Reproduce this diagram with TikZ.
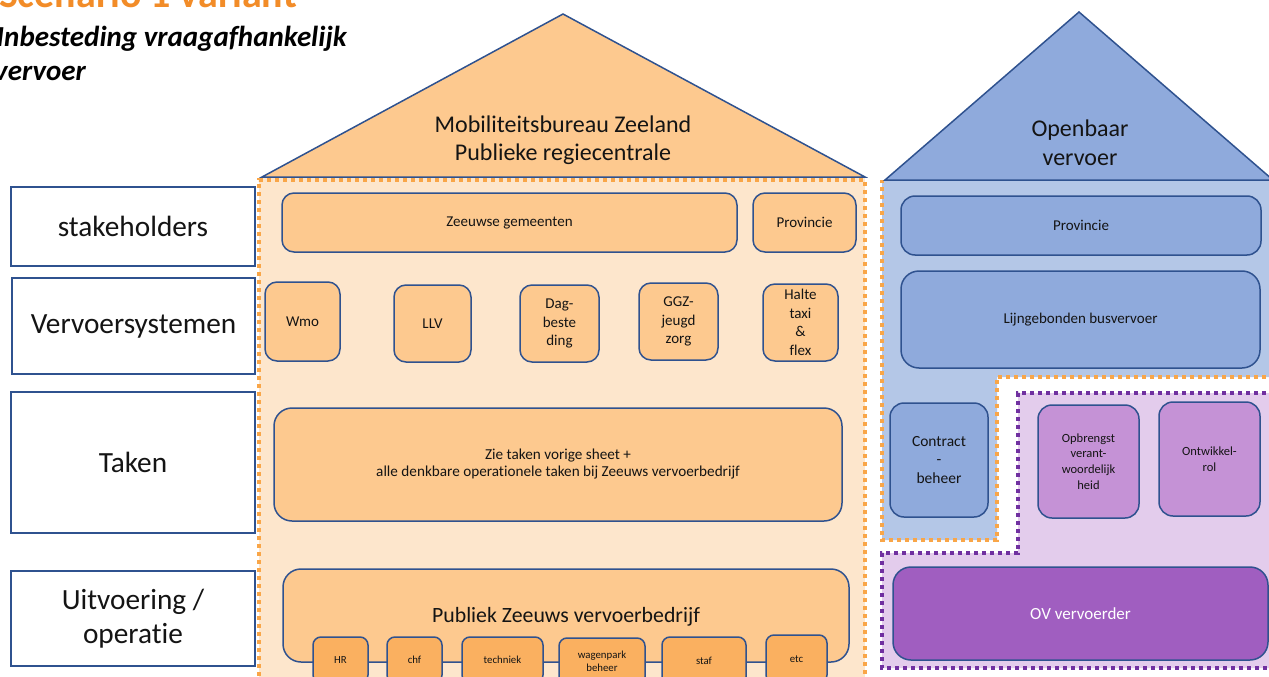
\documentclass[tikz,border=0pt]{standalone}
\usepackage{fontspec}
\setmainfont{Carlito}[Ligatures=NoCommon]
\definecolor{bordc}{HTML}{2F528F}
\definecolor{obody}{HTML}{FDE6CC}
\definecolor{oboxc}{HTML}{FDC98F}
\definecolor{osmall}{HTML}{FAB060}
\definecolor{odot}{HTML}{F9A648}
\definecolor{broof}{HTML}{8FAADC}
\definecolor{bbody}{HTML}{B4C7E7}
\definecolor{pbody}{HTML}{E3CCEC}
\definecolor{pbox}{HTML}{C592D6}
\definecolor{pdark}{HTML}{A05EC0}
\definecolor{pdot}{HTML}{7030A0}
\definecolor{titleor}{HTML}{F28C28}
\definecolor{txt}{HTML}{141414}
\newcommand\hbx[7]{\node[#1, minimum width={(#5-#3)*1pt}, minimum height={(#6-#4)*1pt}] (#2) at ({(#3+#5)/2},{(#4+#6)/2}) {#7};}
\tikzset{
  fs/.style n args={2}{font=\fontsize{#1}{#2}\selectfont},
  lbl/.style={draw=bordc, line width=1.5pt, fill=white, inner sep=0pt, align=center, text=txt, fs={29.3}{34}},
  obx/.style={draw=bordc, line width=1.5pt, fill=oboxc, rounded corners=12pt, inner sep=0pt, align=center, text=txt, fs={15}{18.5}},
  osm/.style={draw=bordc, line width=1.5pt, fill=osmall, rounded corners=8pt, inner sep=0pt, align=center, text=txt, fs={10.8}{13}},
  bbx/.style={draw=bordc, line width=1.5pt, fill=broof, rounded corners=14pt, inner sep=0pt, align=center, text=txt, fs={15}{18.5}},
  pbx/.style={draw=bordc, line width=1.5pt, fill=pbox, rounded corners=14pt, inner sep=0pt, align=center, text=txt, fs={12.5}{15.7}},
  roof/.style={draw=bordc, line width=1.5pt, line join=miter},
  dotline/.style={line width=4pt, dash pattern=on 4pt off 4pt},
}
\begin{document}
\begin{tikzpicture}[x=1pt,y=-1pt]
\useasboundingbox (0,0) rectangle (1269,677);
\clip (0,0) rectangle (1269,677);
% titles
\node[anchor=base east, inner sep=0pt, text=titleor, font=\fontsize{40}{44}\selectfont\bfseries] (t1) at (297,8) {Scenario 1 variant};
\node[anchor=base east, inner sep=0pt, text=black, font=\fontsize{29}{34}\selectfont\bfseries\itshape] (t2) at (347,47) {Inbesteding vraagafhankelijk};
\node[anchor=base east, inner sep=0pt, text=black, font=\fontsize{29}{34}\selectfont\bfseries\itshape] (t3) at (86,81) {vervoer};
% left labels
\hbx{lbl}{stk}{11}{187}{255}{266}{stakeholders}
\hbx{lbl}{vsys}{12}{278}{255}{374}{Vervoersystemen}
\hbx{lbl}{tak}{11}{392}{255}{533}{Taken}
\hbx{lbl}{uitv}{11}{571}{255}{666}{Uitvoering /\\operatie}
% orange house
\fill[obody] (259,178) rectangle (865,700);
\draw[odot, dotline] (259,700) -- (259,180) -- (865,180) -- (865,700);
\draw[roof, fill=oboxc] (262,177) -- (563,14) -- (865,177) -- cycle;
\node[align=center, text=txt, fs={24}{28.5}] (mob) at (563,140) {Mobiliteitsbureau Zeeland\\Publieke regiecentrale};
% blue house
\path[fill=bbody] (882,180) -- (1290,180) -- (1290,377) -- (997,377) -- (997,540) -- (882,540) -- cycle;
\draw[odot, dotline] (1290,377) -- (997,377) -- (997,540) -- (882,540) -- (882,180);
% purple area
\path[fill=pbody] (1018,393) -- (1290,393) -- (1290,668) -- (882,668) -- (882,553) -- (1018,553) -- cycle;
\draw[pdot, dotline] (1290,393) -- (1018,393) -- (1018,553) -- (882,553) -- (882,668) -- (1290,668);
\draw[roof, fill=broof] (885,180) -- (1079,12) -- (1273,180) -- cycle;
\node[align=center, text=txt, fs={24}{29}] (ov) at (1080,143) {Openbaar\\vervoer};
% orange boxes
\hbx{obx}{zg}{282}{193}{737}{252}{Zeeuwse gemeenten}
\hbx{obx}{prov}{753}{193}{856}{252}{Provincie}
\hbx{obx}{wmo}{265}{282}{340}{361}{Wmo}
\hbx{obx}{llv}{394}{285}{471}{362}{LLV}
\hbx{obx}{dag}{520}{285}{599}{362}{Dag-\\beste\\ding}
\hbx{obx}{ggz}{639}{283}{718}{360}{GGZ-\\jeugd\\zorg}
\hbx{obx}{halte}{763}{284}{838}{361}{Halte\\taxi\\\&\\flex}
\hbx{obx,rounded corners=18pt, fs={15.2}{17}}{takbox}{274}{408}{842}{521}{Zie taken vorige sheet +\\alle denkbare operationele taken bij Zeeuws vervoerbedrijf}
\hbx{obx,rounded corners=18pt}{pzv}{283}{569}{849}{662}{}
\node[text=txt, fs={21.8}{25}] (pzvt) at (566,617) {Publiek Zeeuws vervoerbedrijf};
\hbx{osm}{hr}{313}{637}{368}{683}{HR}
\hbx{osm}{chf}{387}{637}{442}{683}{chf}
\hbx{osm}{tech}{462}{637}{543}{683}{techniek}
\hbx{osm}{wp}{559}{638}{645}{685}{wagenpark\\beheer}
\hbx{osm}{staf}{662}{637}{746}{685}{staf}
\hbx{osm}{etc}{766}{635}{827}{683}{etc}
% blue boxes
\hbx{bbx}{bprov}{901}{196}{1261}{255}{Provincie}
\hbx{bbx,rounded corners=18pt}{lijn}{901}{271}{1260}{368}{Lijngebonden busvervoer}
\hbx{bbx,fs={15.5}{18.5}}{contr}{890}{403}{988}{517}{Contract\\-\\beheer}
% purple boxes
\hbx{pbx}{opbr}{1038}{405}{1139}{518}{Opbrengst\\verant-\\woordelijk\\heid}
\hbx{pbx}{ontw}{1159}{402}{1260}{516}{Ontwikkel-\\rol}
\hbx{pbx,fill=pdark,text=white,fs={17}{20},rounded corners=18pt}{ovv}{893}{567}{1268}{660}{OV vervoerder}
\end{tikzpicture}
\end{document}
